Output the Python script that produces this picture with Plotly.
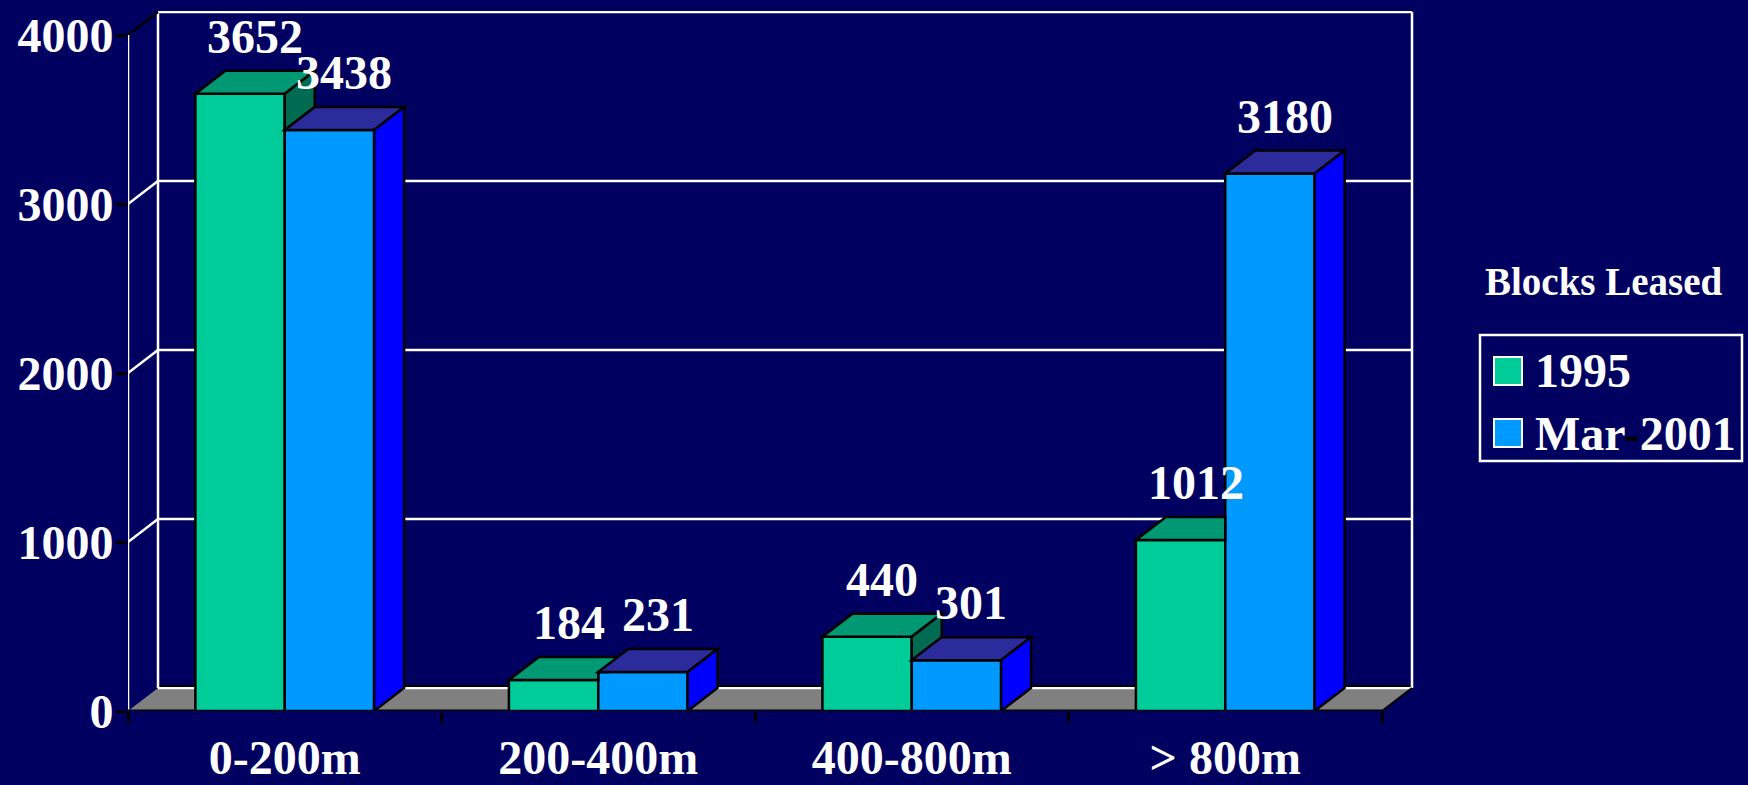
import plotly.graph_objects as go

# ---------------- data ----------------
categories = ["0-200m", "200-400m", "400-800m", "> 800m"]
series_names = ["1995", "Mar-2001"]
values_1995 = [3652, 184, 440, 1012]
values_2001 = [3438, 231, 301, 3180]
y_tick_values = [0, 1000, 2000, 3000, 4000]
legend_title = "Blocks Leased"

# ---------------- style ----------------
BG = "#000060"
GREEN_FRONT, GREEN_TOP, GREEN_SIDE = "#00CC99", "#009973", "#006B50"
BLUE_FRONT, BLUE_TOP, BLUE_SIDE = "#0099FF", "#2B2B9B", "#0000FF"
FLOOR = "#808080"
FONT = "Liberation Serif, Times New Roman, serif"

W, H = 1748, 785
L_PX, R_PX, T_PX, B_PX = 128, 1414, 11, 711      # plot area (includes 3-D depth)
FRONT_RIGHT_PX, Y_TOP_PX = 1382, 35               # front plane extent
DEPTH_PX_X, DEPTH_PX_Y = 30, 23

n = len(categories)
px_per_cat = (FRONT_RIGHT_PX - L_PX) / n
px_per_unit = (B_PX - Y_TOP_PX) / y_tick_values[-1]
DXu = DEPTH_PX_X / px_per_cat
DYu = DEPTH_PX_Y / px_per_unit
x_range = [-0.5, -0.5 + (R_PX - L_PX) / px_per_cat]
y_range = [0, (B_PX - T_PX) / px_per_unit]
BAR_W = 0.285
X0, X1 = -0.5, n - 0.5
YMAX = y_tick_values[-1]


def px2paper_x(px):
    return (px - L_PX) / (R_PX - L_PX)


def px2paper_y(py):
    return (B_PX - py) / (B_PX - T_PX)


def poly(pts):
    return "M " + " L ".join(f"{x},{y}" for x, y in pts) + " Z"


fig = go.Figure()

fig.add_trace(go.Bar(
    x=categories, y=values_1995, name=series_names[0],
    width=BAR_W, offset=-BAR_W,
    marker=dict(color=GREEN_FRONT, line=dict(color="black", width=2.5)),
    showlegend=False, hoverinfo="x+y+name",
))
fig.add_trace(go.Bar(
    x=categories, y=values_2001, name=series_names[1],
    width=BAR_W, offset=0,
    marker=dict(color=BLUE_FRONT, line=dict(color="black", width=2.5)),
    showlegend=False, hoverinfo="x+y+name",
))

shapes = []
# floor
shapes.append(dict(type="path", xref="x", yref="y", layer="below",
                   path=poly([(X0, 0), (X1, 0), (X1 + DXu, DYu), (X0 + DXu, DYu)]),
                   fillcolor=FLOOR, line=dict(width=0)))
# back wall grid lines
for v in y_tick_values:
    shapes.append(dict(type="line", xref="x", yref="y", layer="below",
                       x0=X0 + DXu, x1=X1 + DXu, y0=v + DYu, y1=v + DYu,
                       line=dict(color="white", width=2.5)))
# floor back edge (black just above white)
shapes.append(dict(type="line", xref="x", yref="y", layer="below",
                   x0=X0 + DXu, x1=X1 + DXu, y0=DYu + 2 / px_per_unit, y1=DYu + 2 / px_per_unit,
                   line=dict(color="black", width=2)))
# back wall vertical edges
for xv in (X0 + DXu, X1 + DXu):
    shapes.append(dict(type="line", xref="x", yref="y", layer="below",
                       x0=xv, x1=xv, y0=DYu, y1=YMAX + DYu,
                       line=dict(color="white", width=2.5)))
# left wall diagonals
for v in y_tick_values[1:]:
    shapes.append(dict(type="line", xref="x", yref="y", layer="below",
                       x0=X0, x1=X0 + DXu, y0=v, y1=v + DYu,
                       line=dict(color="black" if v == YMAX else "white", width=2.5)))
# front left vertical line
shapes.append(dict(type="line", xref="x", yref="y", layer="below",
                   x0=X0, x1=X0, y0=0, y1=YMAX, line=dict(color="white", width=2.5)))
# floor front & right edges
shapes.append(dict(type="line", xref="x", yref="y", layer="below",
                   x0=X0, x1=X1, y0=0, y1=0, line=dict(color="black", width=3)))
shapes.append(dict(type="line", xref="x", yref="y", layer="below",
                   x0=X1, x1=X1 + DXu, y0=0, y1=DYu, line=dict(color="black", width=2)))

# 3-D faces of the bars
edge = dict(color="black", width=2.5)
for i in range(n):
    hG, hB = values_1995[i], values_2001[i]
    g, b, r = i - BAR_W, i, i + BAR_W
    # green top (clipped where the blue front hides it)
    if hG >= hB:
        pts = [(g, hG), (b, hG), (b + DXu, hG + DYu), (g + DXu, hG + DYu)]
    elif hB >= hG + DYu:
        pts = [(g, hG), (b, hG), (b, hG + DYu), (g + DXu, hG + DYu)]
    else:
        s1 = DXu * (hB - hG) / DYu
        pts = [(g, hG), (b, hG), (b, hB), (b + s1, hB), (b + DXu, hG + DYu), (g + DXu, hG + DYu)]
    shapes.append(dict(type="path", xref="x", yref="y", layer="above",
                       path=poly(pts), fillcolor=GREEN_TOP, line=edge))
    # green side, visible only above the blue bar
    if hG > hB:
        shapes.append(dict(type="path", xref="x", yref="y", layer="above",
                           path=poly([(b, hB), (b, hG), (b + DXu, hG + DYu), (b + DXu, hB + DYu)]),
                           fillcolor=GREEN_SIDE, line=edge))
    # blue top
    shapes.append(dict(type="path", xref="x", yref="y", layer="above",
                       path=poly([(b, hB), (r, hB), (r + DXu, hB + DYu), (b + DXu, hB + DYu)]),
                       fillcolor=BLUE_TOP, line=edge))
    # blue side
    shapes.append(dict(type="path", xref="x", yref="y", layer="above",
                       path=poly([(r, 0), (r, hB), (r + DXu, hB + DYu), (r + DXu, DYu)]),
                       fillcolor=BLUE_SIDE, line=edge))

annotations = []
label_font = dict(family=FONT, size=48, color="white", weight="bold")
for i in range(n):
    for vals, off in ((values_1995, -BAR_W / 2), (values_2001, BAR_W / 2)):
        annotations.append(dict(x=i + off + DXu / 2, y=vals[i] + DYu, xref="x", yref="y",
                                text=str(vals[i]), showarrow=False, xanchor="center",
                                yanchor="bottom", yshift=6, font=label_font))

# custom legend
annotations.append(dict(x=px2paper_x(1604), y=px2paper_y(281), xref="paper", yref="paper",
                        text=legend_title, showarrow=False, xanchor="center", yanchor="middle",
                        font=dict(family=FONT, size=39, color="white", weight="bold")))
shapes.append(dict(type="rect", xref="paper", yref="paper",
                   x0=px2paper_x(1480), x1=px2paper_x(1742), y0=px2paper_y(461), y1=px2paper_y(335),
                   line=dict(color="white", width=2.5), fillcolor="rgba(0,0,0,0)"))
for k, (name, col) in enumerate(zip(series_names, [GREEN_FRONT, BLUE_FRONT])):
    cy = 371 + 62 * k
    shapes.append(dict(type="rect", xref="paper", yref="paper",
                       x0=px2paper_x(1494), x1=px2paper_x(1522),
                       y0=px2paper_y(cy + 14), y1=px2paper_y(cy - 14),
                       line=dict(color="white", width=2), fillcolor=col))
    txt = name.replace("-", "<span style='color:black'>-</span>")
    annotations.append(dict(x=px2paper_x(1533), y=px2paper_y(cy), xref="paper", yref="paper",
                            text=txt, showarrow=False, xanchor="left", yanchor="middle",
                            font=dict(family=FONT, size=48, color="white", weight="bold")))

fig.update_layout(
    width=W, height=H,
    margin=dict(l=L_PX, r=W - R_PX, t=T_PX, b=H - B_PX, pad=0, autoexpand=False),
    paper_bgcolor=BG, plot_bgcolor=BG,
    barmode="overlay",
    shapes=shapes, annotations=annotations,
    xaxis=dict(type="category", range=x_range, tickson="boundaries", automargin=False,
               ticks="outside", ticklen=11, tickwidth=2.5, tickcolor="black",
               showgrid=False, showline=False, zeroline=False, ticklabelstandoff=14,
               tickfont=dict(family=FONT, size=48, color="white", weight="bold")),
    yaxis=dict(range=y_range, tickvals=y_tick_values, ticks="outside", ticklen=11,
               tickwidth=2.5, tickcolor="black", showgrid=False, showline=False,
               zeroline=False, automargin=False, ticklabelstandoff=-7,
               tickfont=dict(family=FONT, size=48, color="white", weight="bold")),
)

fig.write_html(
    "out.html",
    config={"displayModeBar": False},
    post_script="document.body.style.margin='0';document.body.style.background='%s';" % BG,
)
